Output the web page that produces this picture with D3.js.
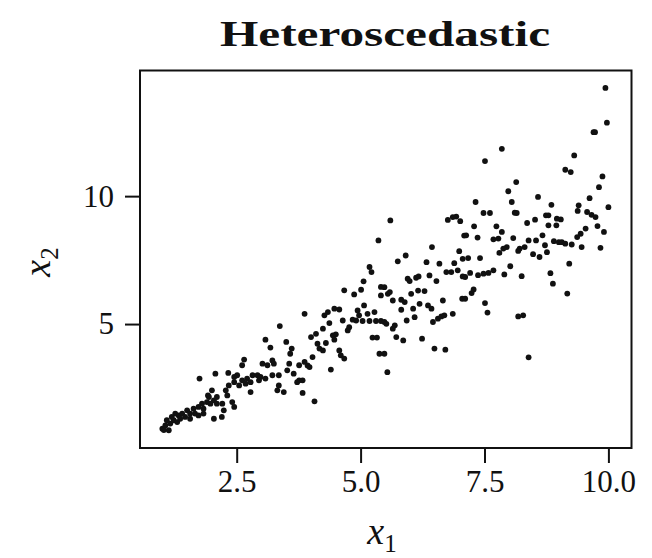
<!DOCTYPE html>
<html>
<head>
<meta charset="utf-8">
<script src="https://cdn.jsdelivr.net/npm/d3@7"></script>
<style>
  body { margin: 0; background: #fff; }
  svg text { font-family: "Liberation Serif", "DejaVu Serif", serif; fill: #111; }
</style>
</head>
<body>
<div class="chart"></div>
<script>
// values (x1, x2 pairs)
var x1 = [
  1.75, 2.07, 2.00, 1.92, 2.04, 1.00, 1.13, 1.06, 1.16, 1.23, 1.19, 1.30, 1.33, 1.40, 1.46, 1.50, 1.56, 1.63,
  1.66, 1.73, 1.80, 1.83, 1.90, 1.97, 2.04, 2.10, 1.94, 2.10, 1.09, 1.03, 1.36, 1.56, 1.73, 1.83, 1.26,
  3.37, 3.08, 3.18, 3.50, 3.61, 3.58, 2.65, 2.61, 3.02, 3.12, 3.22, 3.25, 3.56, 3.76, 2.33, 2.45, 2.51, 2.61,
  2.71, 2.82, 2.92, 2.98, 3.08, 3.22, 3.35, 3.52, 3.65, 3.76, 2.34, 2.45, 2.55, 2.68, 2.78, 2.95, 3.35, 3.32,
  3.45, 3.72, 2.28, 2.31, 2.78, 2.21, 2.41, 2.45, 2.24, 2.20,
  5.36, 5.18, 5.22, 5.06, 4.67, 4.87, 5.01, 5.41, 5.41, 3.87, 4.27, 4.34, 4.47, 4.57, 4.94, 5.07, 4.97, 5.14,
  5.28, 4.64, 4.84, 4.91, 5.04, 5.18, 5.31, 5.41, 4.37, 4.77, 4.74, 4.24, 4.10, 4.00, 4.44, 4.50, 4.47, 4.13,
  4.30, 5.24, 5.33, 4.17, 4.24, 4.57, 4.60, 4.67, 5.38, 4.03, 3.87, 3.93, 3.97, 4.40, 3.83, 3.83, 4.07,
  5.60, 6.76, 6.86, 6.93, 7.01, 7.09, 6.44, 6.99, 5.91, 5.75, 6.33, 6.59, 6.89, 7.06, 6.73, 6.83, 6.96, 7.06,
  6.39, 5.95, 5.99, 6.12, 6.17, 6.53, 5.48, 5.55, 5.59, 6.02, 6.16, 6.29, 5.65, 5.82, 5.89, 6.19, 6.36, 6.43,
  6.66, 7.05, 6.06, 5.82, 5.48, 5.52, 5.69, 5.65, 5.93, 6.09, 6.46, 6.56, 6.63, 6.69, 6.86, 5.72, 5.86, 6.24,
  6.49, 6.71, 5.48, 5.54,
  7.85, 7.51, 8.14, 7.98, 8.58, 7.32, 8.05, 7.48, 7.61, 8.11, 8.15, 8.36, 8.52, 8.74, 7.29, 7.74, 7.85, 7.13,
  7.36, 7.68, 7.78, 8.08, 8.39, 8.54, 8.67, 7.95, 7.88, 8.21, 8.31, 8.18, 8.72, 7.80, 8.48, 8.61, 7.17, 7.41,
  8.02, 7.21, 7.37, 7.48, 7.58, 7.68, 7.90, 8.25, 7.11, 7.24, 7.28, 7.11, 7.51, 7.56, 8.18, 8.28, 8.39,
  9.94, 9.97, 9.70, 9.73, 9.31, 9.13, 9.24, 9.88, 9.81, 9.62, 8.85, 10.00, 9.40, 9.38, 9.57, 9.66, 9.74, 9.78,
  9.91, 9.54, 9.44, 9.37, 8.96, 9.04, 8.79, 8.79, 8.95, 8.90, 9.00, 9.06, 9.13, 9.26, 9.46, 9.84, 8.76, 9.21,
  8.83, 8.88, 9.17
];
var x2 = [
  2.87, 3.06, 2.41, 2.21, 1.30, 0.91, 0.85, 1.04, 1.11, 1.24, 1.37, 1.17, 1.43, 1.50, 1.37, 1.63, 1.50, 1.69,
  1.50, 1.76, 1.89, 1.69, 1.95, 1.89, 2.02, 1.89, 2.15, 2.15, 1.24, 0.86, 1.30, 1.30, 1.43, 1.50, 1.50,
  4.92, 4.39, 4.08, 4.30, 4.04, 3.84, 3.61, 3.39, 3.45, 3.39, 3.58, 3.45, 3.45, 3.39, 3.09, 2.93, 3.00, 2.80,
  2.87, 3.00, 3.00, 2.93, 2.87, 3.00, 3.00, 3.19, 3.06, 2.80, 2.60, 2.73, 2.60, 2.67, 2.73, 2.80, 2.60, 2.41,
  2.34, 2.73, 2.41, 2.21, 2.34, 1.89, 1.95, 1.76, 1.63, 1.37,
  8.27, 7.23, 7.03, 6.67, 6.32, 6.16, 6.34, 6.45, 6.12, 5.40, 5.34, 5.47, 5.60, 5.57, 5.53, 5.73, 5.34, 5.40,
  5.47, 5.14, 5.17, 5.14, 5.12, 5.12, 5.12, 5.12, 5.04, 4.88, 4.75, 4.82, 4.62, 4.49, 4.56, 4.60, 4.39, 4.23,
  4.26, 4.47, 4.47, 4.04, 3.97, 3.97, 3.78, 3.65, 3.84, 3.71, 3.52, 3.38, 3.32, 3.22, 2.80, 2.31, 1.98,
  9.05, 9.07, 9.18, 9.20, 9.02, 8.46, 8.01, 7.85, 7.68, 7.45, 7.42, 7.36, 7.38, 7.55, 7.03, 7.03, 7.10, 6.86,
  6.90, 6.77, 6.68, 6.81, 6.86, 6.68, 6.44, 6.18, 6.25, 6.18, 6.31, 6.29, 5.92, 5.95, 5.86, 5.79, 5.73, 5.60,
  5.92, 5.99, 5.60, 5.56, 5.08, 5.01, 4.95, 4.82, 5.14, 5.27, 5.08, 5.21, 5.30, 5.34, 5.40, 4.49, 4.36, 4.43,
  4.04, 4.00, 3.84, 3.12,
  11.85, 11.37, 10.55, 10.19, 9.97, 9.77, 9.77, 9.34, 9.34, 9.35, 9.34, 8.95, 9.08, 9.25, 8.82, 8.82, 8.60, 8.47,
  8.38, 8.31, 8.34, 8.36, 8.27, 8.27, 8.47, 8.01, 7.95, 7.95, 8.01, 7.86, 8.08, 7.78, 7.73, 7.62, 7.58, 7.58,
  7.26, 7.00, 6.91, 6.97, 7.00, 7.10, 6.94, 6.87, 6.84, 6.21, 6.35, 5.99, 5.82, 5.45, 5.30, 5.34, 3.70,
  14.23, 12.87, 12.50, 12.50, 11.59, 11.03, 10.94, 10.77, 10.35, 9.92, 9.66, 9.57, 9.64, 9.42, 9.38, 9.27, 9.18, 8.83,
  8.60, 8.73, 8.53, 8.40, 9.12, 9.09, 9.25, 8.86, 8.86, 8.24, 8.20, 8.20, 8.14, 8.11, 8.01, 7.98, 7.81, 7.36,
  6.99, 6.58, 6.19
];
var xTicks = [2.5, 5.0, 7.5, 10.0];
var yTicks = [5, 10];

var width = 652, height = 558;
var svg = d3.select('.chart').append('svg').attr('width', width).attr('height', height);

var x = d3.scaleLinear().domain([0.549, 10.466]).range([140, 631.5]);
var y = d3.scaleLinear().domain([0.156, 14.91]).range([448, 70.5]);

// title
svg.append('text')
    .attr('x', 385).attr('y', 46)
    .attr('text-anchor', 'middle')
    .style('font-size', '36px').style('font-weight', 'bold')
    .attr('textLength', 330).attr('lengthAdjust', 'spacingAndGlyphs')
    .text('Heteroscedastic');

// points
svg.append('g').selectAll('circle')
    .data(x1)
    .enter().append('circle')
    .attr('cx', function (d) { return x(d); })
    .attr('cy', function (d, i) { return y(x2[i]); })
    .attr('r', 2.9)
    .attr('fill', '#111');

// frame
svg.append('rect')
    .attr('x', 140).attr('y', 70.5)
    .attr('width', 491.5).attr('height', 377.5)
    .attr('fill', 'none').attr('stroke', '#111').attr('stroke-width', 2);

var gx = svg.append('g')
    .attr('transform', 'translate(0,448)')
    .call(d3.axisBottom(x).tickValues(xTicks).tickFormat(d3.format('.1f')).tickSize(15).tickPadding(7));
var gy = svg.append('g')
    .attr('transform', 'translate(140,0)')
    .call(d3.axisLeft(y).tickValues(yTicks).tickFormat(d3.format('d')).tickSize(15).tickPadding(11));

[gx, gy].forEach(function (g) {
    g.select('.domain').remove();
    g.selectAll('.tick line').attr('stroke', '#111').attr('stroke-width', 2);
    g.selectAll('.tick text').style('font-size', '31px').attr('fill', '#111');
});

// axis labels
var xl = svg.append('text')
    .attr('x', 382).attr('y', 544)
    .attr('text-anchor', 'middle')
    .style('font-size', '38px');
xl.append('tspan').style('font-style', 'italic').text('x');
xl.append('tspan').attr('dy', 8).style('font-size', '25px').text('1');

var yl = svg.append('text')
    .attr('transform', 'translate(50,262) rotate(-90)')
    .attr('text-anchor', 'middle')
    .style('font-size', '38px');
yl.append('tspan').style('font-style', 'italic').text('x');
yl.append('tspan').attr('dy', 8).style('font-size', '25px').text('2');
</script>
</body>
</html>
